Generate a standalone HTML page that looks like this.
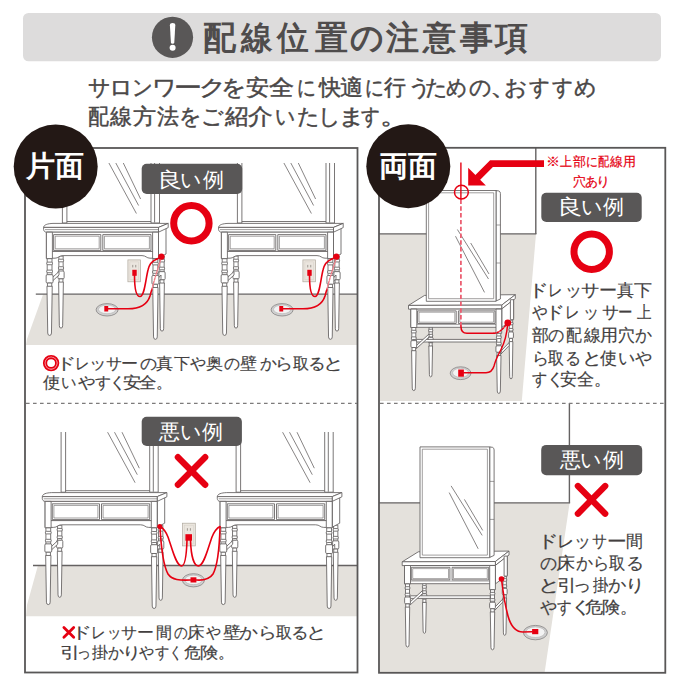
<!DOCTYPE html>
<html lang="ja">
<head>
<meta charset="utf-8">
<style>
html,body{margin:0;padding:0;background:#fff;}
body{width:683px;height:683px;position:relative;overflow:hidden;font-family:"Liberation Sans",sans-serif;}
svg.bg{position:absolute;left:0;top:0;}
.t{position:absolute;white-space:nowrap;line-height:1;color:#433f3f;-webkit-text-stroke:0.18px #433f3f;}
.w{color:#fff;-webkit-text-stroke:0;}
.h{color:#4f4c4c;-webkit-text-stroke:0;}
.s{color:#4a4747;-webkit-text-stroke:0.45px #4a4747;}
.r{color:#e60012;-webkit-text-stroke:0.2px #e60012;}
.m span{display:inline-block;}
</style>
</head>
<body>
<svg class="bg" width="683" height="683" viewBox="0 0 683 683">
<defs>
<g id="dF" fill="#fff" stroke="#625e5e" stroke-width="0.85" stroke-linejoin="round">
<rect x="58.84" y="256.00" width="4.32" height="15.51"/>
<rect x="58.44" y="259.22" width="5.13" height="2.6" rx="1"/>
<rect x="58.44" y="266.73" width="5.13" height="2.6" rx="1"/>
<rect x="57.90" y="271.01" width="6.21" height="7.87" rx="1.2"/>
<rect x="59.06" y="278.88" width="3.89" height="3.70"/>
<path d="M58.62 282.08 L63.38 282.08 L62.67 325.70 Q62.67 328.10 61.00 328.10 Q59.33 328.10 59.33 325.70 Z"/>
<rect x="159.84" y="256.00" width="4.32" height="16.14"/>
<rect x="159.44" y="259.35" width="5.13" height="2.6" rx="1"/>
<rect x="159.44" y="267.18" width="5.13" height="2.6" rx="1"/>
<rect x="158.90" y="271.64" width="6.21" height="8.19" rx="1.2"/>
<rect x="160.06" y="279.84" width="3.89" height="3.70"/>
<path d="M159.62 283.04 L164.38 283.04 L163.67 328.70 Q163.67 331.10 162.00 331.10 Q160.33 331.10 160.33 328.70 Z"/>
<path d="M52.5 277.5 L59 271.5 L59 275 L52.5 281 Z"/>
<path d="M157.5 279 L161 275 L161 278.5 L157.5 282.5 Z"/>
<rect x="62.4" y="140" width="4.5" height="83"/>
<rect x="151" y="140" width="8.5" height="83"/>
<line x1="154.6" y1="140" x2="154.6" y2="222.5"/>
<line x1="66.9" y1="221.5" x2="151" y2="221.5"/>
<g fill="none" stroke="#736f6f" stroke-width="0.85"><line x1="108.9" y1="163" x2="136.4" y2="213.5"/><line x1="115.8" y1="163" x2="138.6" y2="205.5"/><line x1="123.3" y1="163" x2="140.6" y2="199"/></g>
<path d="M158.5 231 L166 227 L166 254 L158.5 258 Z"/>
<path d="M43.6 227.4 C43.8 224.8 47.5 223.6 53 223.4 L168.2 223.4 L158.5 227.4 Z"/>
<path d="M158.5 227.4 L168.2 223.4 L168.2 227.6 L158.5 232.2 Z"/>
<path d="M43.6 227.4 L158.5 227.4 L158.5 232.2 L46.5 232.2 C44.5 232.2 43.6 230.5 43.6 229.5 Z"/>
<line x1="45" y1="229.6" x2="158.5" y2="229.6" stroke-width="0.6"/>
<rect x="46.4" y="232.2" width="112.1" height="19.2"/>
<rect x="53.6" y="234.6" width="47.2" height="15.8"/>
<rect x="55.2" y="236.2" width="44" height="12.6" stroke-width="0.6"/>
<rect x="102.8" y="234.6" width="48.2" height="15.8"/>
<rect x="104.4" y="236.2" width="45" height="12.6" stroke-width="0.6"/>
<path d="M46.4 251.4 L158.5 251.4 L158.5 258.2 L150 258.2 C146.5 258.2 146 255.6 142 255.6 L63 255.6 C59 255.6 58.5 258.2 55 258.2 L46.4 258.2 Z"/>
<rect x="46.4" y="232.2" width="6" height="26.5"/>
<rect x="152.6" y="232.2" width="5.9" height="26.5"/>
<rect x="47.20" y="258.70" width="4.80" height="16.48"/>
<rect x="46.75" y="262.12" width="5.70" height="2.6" rx="1"/>
<rect x="46.75" y="270.12" width="5.70" height="2.6" rx="1"/>
<rect x="46.15" y="274.68" width="6.90" height="8.37" rx="1.2"/>
<rect x="47.44" y="283.05" width="4.32" height="3.70"/>
<path d="M46.96 286.25 L52.24 286.25 L51.46 333.00 Q51.46 335.40 49.60 335.40 Q47.74 335.40 47.74 333.00 Z"/>
<rect x="153.00" y="258.70" width="4.80" height="17.30"/>
<rect x="152.55" y="262.30" width="5.70" height="2.6" rx="1"/>
<rect x="152.55" y="270.70" width="5.70" height="2.6" rx="1"/>
<rect x="151.95" y="275.50" width="6.90" height="8.80" rx="1.2"/>
<rect x="153.24" y="284.30" width="4.32" height="3.70"/>
<path d="M152.76 287.50 L158.04 287.50 L157.26 336.90 Q157.26 339.30 155.40 339.30 Q153.54 339.30 153.54 336.90 Z"/>
</g>
<g id="dQ" fill="#fff" stroke="#625e5e" stroke-width="0.85" stroke-linejoin="round">
<rect x="429.02" y="327.00" width="3.36" height="10.85"/>
<rect x="428.70" y="329.22" width="3.99" height="2.6" rx="1"/>
<rect x="428.70" y="334.39" width="3.99" height="2.6" rx="1"/>
<rect x="428.28" y="337.35" width="4.83" height="5.42" rx="1.2"/>
<rect x="429.19" y="342.78" width="3.02" height="3.70"/>
<path d="M428.85 345.98 L432.55 345.98 L432.00 374.50 Q432.00 376.90 430.70 376.90 Q429.40 376.90 429.40 374.50 Z"/>
<rect x="509.32" y="319.60" width="3.36" height="12.83"/>
<rect x="509.00" y="322.24" width="3.99" height="2.6" rx="1"/>
<rect x="509.00" y="328.41" width="3.99" height="2.6" rx="1"/>
<rect x="508.58" y="331.93" width="4.83" height="6.46" rx="1.2"/>
<rect x="509.49" y="338.38" width="3.02" height="3.70"/>
<path d="M509.15 341.58 L512.85 341.58 L512.30 376.50 Q512.30 378.90 511.00 378.90 Q509.70 378.90 509.70 376.50 Z"/>
<path d="M408.5 305.4 L424.6 295.4 L515.3 294.7 L501.7 305.1 Z"/>
<path d="M496 190.5 L499 191 Q500.4 191.6 500.4 193.5 L500.4 299 L496 301 Z"/>
<line x1="496.2" y1="225" x2="500.4" y2="225" stroke-width="0.6"/><line x1="496.2" y1="263" x2="500.4" y2="263" stroke-width="0.6"/>
<rect x="426.3" y="190.5" width="69.7" height="110.8"/>
<rect x="428.6" y="192.8" width="65.1" height="105.9" stroke-width="0.6"/>
<g fill="none" stroke="#736f6f" stroke-width="0.85"><line x1="457.4" y1="229.5" x2="488.5" y2="279"/><line x1="455.5" y1="236.2" x2="484.5" y2="292.4"/><line x1="470.7" y1="243" x2="489" y2="274"/></g>
<path d="M501.7 305.1 L515.3 294.7 L515.3 298.6 L501.7 309 Z"/>
<path d="M408.5 305.4 L501.7 305.1 L501.7 309 L408.5 309.2 Z"/>
<path d="M501.7 309 L513.6 299.7 L513.6 318.5 L501.7 327.5 Z"/>
<rect x="510.4" y="299.7" width="3.2" height="20"/>
<rect x="410.8" y="309.1" width="90.9" height="18.2"/>
<rect x="417.6" y="310.9" width="38.6" height="12.6"/>
<rect x="419" y="312.2" width="35.8" height="10" stroke-width="0.55"/>
<rect x="458.4" y="310.9" width="36.6" height="12.6"/>
<rect x="459.8" y="312.2" width="33.8" height="10" stroke-width="0.55"/>
<line x1="410.8" y1="324.6" x2="501.7" y2="324.6" stroke-width="0.6"/>
<rect x="410.8" y="309.1" width="6" height="18.4"/>
<rect x="496" y="309.1" width="5.7" height="24.2"/>
<path d="M416.5 339.4 L496.5 339.4 L496.5 342 L416.5 342 Z"/>
<path d="M416.5 345.5 L429 334 L429 337 L416.5 348.5 Z"/>
<path d="M501 351 L509.2 342.5 L509.2 345.5 L501 354 Z"/>
<rect x="411.80" y="327.50" width="4.00" height="13.62"/>
<rect x="411.43" y="330.31" width="4.75" height="2.6" rx="1"/>
<rect x="411.43" y="336.88" width="4.75" height="2.6" rx="1"/>
<rect x="410.93" y="340.62" width="5.75" height="6.88" rx="1.2"/>
<rect x="412.00" y="347.50" width="3.60" height="3.70"/>
<path d="M411.60 350.70 L416.00 350.70 L415.35 388.20 Q415.35 390.60 413.80 390.60 Q412.25 390.60 412.25 388.20 Z"/>
<rect x="496.80" y="333.30" width="4.00" height="13.00"/>
<rect x="496.43" y="335.98" width="4.75" height="2.6" rx="1"/>
<rect x="496.43" y="342.23" width="4.75" height="2.6" rx="1"/>
<rect x="495.93" y="345.80" width="5.75" height="6.55" rx="1.2"/>
<rect x="497.00" y="352.34" width="3.60" height="3.70"/>
<path d="M496.60 355.54 L501.00 355.54 L500.35 391.00 Q500.35 393.40 498.80 393.40 Q497.25 393.40 497.25 391.00 Z"/>
</g>
<clipPath id="cU"><rect x="26" y="163" width="331" height="240"/></clipPath>
<clipPath id="cL"><rect x="26" y="432" width="331" height="240"/></clipPath>
</defs>
<!-- header banner -->
<rect x="23" y="13" width="638" height="48.3" rx="5.5" fill="#dddcdc"/>
<circle cx="172.5" cy="37.3" r="20.6" fill="#595757"/>
<path d="M169.9 25.3 Q169.9 23.1 172.6 23.1 Q175.3 23.1 175.3 25.3 L174.3 42.6 Q174.2 43.8 172.6 43.8 Q171 43.8 170.9 42.6 Z" fill="#fff"/>
<circle cx="172.6" cy="47.8" r="3" fill="#fff"/>

<!-- floors -->
<path d="M43 294.5 L27 339 L26 345 L357 345 L357 294.5 Z" fill="#e4e1dc"/>
<path d="M37.8 566 L27 605 L26 616.3 L357 616.3 L357 566 Z" fill="#e4e1dc"/>
<path d="M380 234 L536 234 L521.8 401 L380 401 Z" fill="#e4e1dc"/>
<path d="M380 503 L569.6 503 L544.7 672 L380 672 Z" fill="#e4e1dc"/>

<!-- wall lines -->
<g stroke="#656262" stroke-width="1.4" fill="none">
<line x1="35.8" y1="294.1" x2="357" y2="294.1"/>
<line x1="33" y1="565.5" x2="357" y2="565.5"/>
<line x1="379" y1="233.9" x2="536.4" y2="233.9"/>
<line x1="535.8" y1="148" x2="535.8" y2="233.9"/>
<line x1="379" y1="502.9" x2="570.1" y2="502.9"/>
<line x1="569.4" y1="403" x2="569.4" y2="502.9"/>
</g>

<!-- dressers -->
<g clip-path="url(#cU)">
<use href="#dF"/>
<use href="#dF" transform="translate(175,0)"/>
</g>
<rect x="127.9" y="259.9" width="12.7" height="21.9" fill="#ebe6df" stroke="#b0a99f" stroke-width="0.7"/><rect x="129.9" y="261.9" width="8.7" height="17.9" fill="none" stroke="#d6d0c7" stroke-width="0.5"/><g stroke="#8a847c" stroke-width="0.8"><line x1="132.75" y1="264.9" x2="132.75" y2="267.4"/><line x1="135.75" y1="264.9" x2="135.75" y2="267.4"/></g>
<ellipse cx="107.1" cy="309.8" rx="11" ry="6.2" fill="#cfcfcf" stroke="#858383" stroke-width="0.8"/><ellipse cx="107.1" cy="309.40000000000003" rx="8.6" ry="4.300000000000001" fill="#f3f3f3" stroke="#a9a7a7" stroke-width="0.5"/>
<g fill="none" stroke="#e60012" stroke-width="1.6" stroke-linecap="round">
<path d="M134.5 275 C134.5 290 136.5 296.5 140 296.5 C144.5 296.5 145.5 280 148 270 C149.5 263 153 260.5 156.5 259.2"/>
<path d="M108 308.8 L128 308.8 C141 308.8 147.5 304 150 296 C150.8 293 151.4 291 152 289"/>
<path d="M152 289 C153.5 283 155.5 276 157.5 270 C159 265 160.5 261 161.4 257" stroke="#f07d87" stroke-width="1.4" stroke-dasharray="1.8 1.4"/>
<path d="M156.5 259.2 L160 257.5" stroke-dasharray="1.6 1.6"/>
</g>
<rect x="132.3" y="269.8" width="4.4" height="6" fill="#e60012"/>
<rect x="104.3" y="306" width="3.9" height="5.5" fill="#e60012"/>
<circle cx="161.4" cy="256.6" r="3.2" fill="#e60012"/>
<g transform="translate(175,0)">
<rect x="127.9" y="259.9" width="12.7" height="21.9" fill="#ebe6df" stroke="#b0a99f" stroke-width="0.7"/><rect x="129.9" y="261.9" width="8.7" height="17.9" fill="none" stroke="#d6d0c7" stroke-width="0.5"/><g stroke="#8a847c" stroke-width="0.8"><line x1="132.75" y1="264.9" x2="132.75" y2="267.4"/><line x1="135.75" y1="264.9" x2="135.75" y2="267.4"/></g>
<ellipse cx="107.1" cy="309.8" rx="11" ry="6.2" fill="#cfcfcf" stroke="#858383" stroke-width="0.8"/><ellipse cx="107.1" cy="309.40000000000003" rx="8.6" ry="4.300000000000001" fill="#f3f3f3" stroke="#a9a7a7" stroke-width="0.5"/>
<g fill="none" stroke="#e60012" stroke-width="1.6" stroke-linecap="round">
<path d="M134.5 275 C134.5 290 136.5 296.5 140 296.5 C144.5 296.5 145.5 280 148 270 C149.5 263 153 260.5 156.5 259.2"/>
<path d="M108 308.8 L128 308.8 C141 308.8 147.5 304 150 296 C150.8 293 151.4 291 152 289"/>
<path d="M152 289 C153.5 283 155.5 276 157.5 270 C159 265 160.5 261 161.4 257" stroke="#f07d87" stroke-width="1.4" stroke-dasharray="1.8 1.4"/>
<path d="M156.5 259.2 L160 257.5" stroke-dasharray="1.6 1.6"/>
</g>
<rect x="132.3" y="269.8" width="4.4" height="6" fill="#e60012"/>
<rect x="104.3" y="306" width="3.9" height="5.5" fill="#e60012"/>
<circle cx="161.4" cy="256.6" r="3.2" fill="#e60012"/>
</g>
<g clip-path="url(#cL)">
<use href="#dF" transform="translate(-1.3,269.2)"/>
<use href="#dF" transform="translate(173.7,269.2)"/>
</g>
<rect x="182.5" y="523.2" width="12.8" height="22.7" fill="#ebe6df" stroke="#b0a99f" stroke-width="0.7"/><rect x="184.5" y="525.2" width="8.8" height="18.7" fill="none" stroke="#d6d0c7" stroke-width="0.5"/><g stroke="#8a847c" stroke-width="0.8"><line x1="187.4" y1="528.2" x2="187.4" y2="530.7"/><line x1="190.4" y1="528.2" x2="190.4" y2="530.7"/></g>
<ellipse cx="193.4" cy="580.3" rx="11" ry="6.6" fill="#cfcfcf" stroke="#858383" stroke-width="0.8"/><ellipse cx="193.4" cy="579.9" rx="8.6" ry="4.699999999999999" fill="#f3f3f3" stroke="#a9a7a7" stroke-width="0.5"/>
<g fill="none" stroke="#e60012" stroke-width="1.6" stroke-linecap="round">
<path d="M187 540 C186.5 556 185 566 181.5 566 C176 566 172 548 168 537 C166 532 163 528 160 526.5"/>
<path d="M190.5 540 C191 556 194 566 198.5 566 C204 566 208 548 212 537 C214 532 217 528 220 526.5"/>
<path d="M160 527 C161 545 163 565 168 574 C172 580 180 580.5 190.5 580"/>
<path d="M220 527 C219.5 545 218 565 213 574 C209 580 203 580.5 196.4 580"/>
</g>
<rect x="185.4" y="534.2" width="6.6" height="6.5" fill="#e60012"/>
<rect x="190.5" y="577.3" width="5.9" height="5.2" fill="#e60012"/>
<circle cx="159.8" cy="526.6" r="2.5" fill="#e60012"/>
<use href="#dQ"/>
<ellipse cx="460.6" cy="373.2" rx="10.4" ry="6.4" fill="#cfcfcf" stroke="#858383" stroke-width="0.8"/><ellipse cx="460.6" cy="372.8" rx="8.0" ry="4.5" fill="#f3f3f3" stroke="#a9a7a7" stroke-width="0.5"/>
<g fill="none" stroke="#e60012" stroke-width="1.5" stroke-linecap="round">
<path d="M460.9 199.5 L460.9 326" stroke="#ec5f72" stroke-width="1.8" stroke-dasharray="4.4 2.4" stroke-linecap="butt"/>
<path d="M460.9 326 Q460.9 333.3 467 333.3 L494 333.3"/>
<path d="M494 333.3 C499 333 503 329 507.8 323" stroke-dasharray="1.6 1.6"/>
<path d="M507.8 323 C507 333 505 342 500.8 350 C497 357 495 362 494 366 C492.5 371 490 372.8 486 372.8 L463.9 372.8"/>
</g>
<line x1="460.9" y1="162.5" x2="460.9" y2="199.5" stroke="#e60012" stroke-width="1.4"/>
<circle cx="461.4" cy="192.2" r="6.9" fill="none" stroke="#e60012" stroke-width="1.5"/>
<rect x="458.2" y="369.5" width="5.7" height="7.2" fill="#e60012"/>
<circle cx="507.8" cy="322.8" r="3.4" fill="#e60012"/>
<polyline points="544,163.7 491.5,163.7 477.3,177.9" fill="none" stroke="#e60012" stroke-width="6.8" stroke-linejoin="miter"/>
<polygon points="468.2,185.6 468.2,167.8 485.9,185.4" fill="#e60012"/>
<use href="#dQ" transform="translate(-6.3,256.4)"/>
<ellipse cx="535.4" cy="632.6" rx="12" ry="7.2" fill="#cfcfcf" stroke="#858383" stroke-width="0.8"/><ellipse cx="535.4" cy="632.2" rx="9.6" ry="5.300000000000001" fill="#f3f3f3" stroke="#a9a7a7" stroke-width="0.5"/>
<path d="M501.5 579 C503 592 505 605 508 616 C511 627 516 632 523 632 L532 631.8" fill="none" stroke="#e60012" stroke-width="1.6" stroke-linecap="round"/>
<rect x="532.1" y="629" width="6.2" height="5.2" fill="#e60012"/>
<circle cx="501.5" cy="579" r="2.8" fill="#e60012"/>

<!-- panels -->
<rect x="25" y="148" width="332.5" height="524.5" fill="none" stroke="#595757" stroke-width="1.8"/>
<rect x="379" y="147.8" width="286.3" height="525" fill="none" stroke="#595757" stroke-width="1.8"/>
<line x1="26" y1="403.3" x2="357" y2="403.3" stroke="#7d7b7b" stroke-width="1.3" stroke-dasharray="3.6 3.4"/>
<line x1="380" y1="403.3" x2="665" y2="403.3" stroke="#7d7b7b" stroke-width="1.3" stroke-dasharray="3.6 3.4"/>

<!-- labels -->
<rect x="141.7" y="163.8" width="100.5" height="30.2" rx="5" fill="#595757"/>
<rect x="141.7" y="416.7" width="100.2" height="29.3" rx="5" fill="#595757"/>
<rect x="541.3" y="192.7" width="100.4" height="29.2" rx="5" fill="#595757"/>
<rect x="541.2" y="444.9" width="101" height="30.4" rx="5" fill="#595757"/>

<!-- red marks -->
<circle cx="191.4" cy="223.3" r="17.7" fill="none" stroke="#e60012" stroke-width="7"/>
<circle cx="591.7" cy="251.7" r="17.7" fill="none" stroke="#e60012" stroke-width="7"/>
<g stroke="#e60012" stroke-width="6.3" stroke-linecap="round">
<line x1="177.9" y1="457.2" x2="205.2" y2="484.8"/>
<line x1="205.2" y1="457.2" x2="177.9" y2="484.8"/>
<line x1="577.9" y1="486" x2="605.2" y2="513.7"/>
<line x1="605.2" y1="486" x2="577.9" y2="513.7"/>
</g>
<circle cx="51.1" cy="363.1" r="7.25" fill="none" stroke="#e60012" stroke-width="1.9"/><circle cx="51.1" cy="363.1" r="6.05" fill="none" stroke="#f07a85" stroke-width="0.6"/><circle cx="51.1" cy="363.1" r="4.85" fill="none" stroke="#e60012" stroke-width="1.8"/>
<g stroke="#e60012" stroke-width="2.8" stroke-linecap="round">
<line x1="63.9" y1="627.6" x2="73.7" y2="637.2"/><line x1="73.7" y1="627.6" x2="63.9" y2="637.2"/>
</g>

<!-- big circles -->
<circle cx="55.7" cy="166.5" r="42" fill="#231815"/>
<circle cx="408.3" cy="166.2" r="42" fill="#231815"/>
</svg>

<div class="t m h" style="left:203.10px;top:21.3px;font-size:33px;font-weight:bold;"><span style="width:37.25px;">配</span><span style="width:35.90px;transform:scaleX(0.950);transform-origin:16.0px 50%;">線</span><span style="width:38.35px;transform:scaleX(0.959);transform-origin:16.0px 50%;">位</span><span style="width:35.80px;">置</span><span style="width:36.05px;">の</span><span style="width:36.90px;">注</span><span style="width:36.75px;">意</span><span style="width:35.15px;">事</span>項</div>
<div class="t m s" style="left:88.05px;top:77.2px;font-size:22px;"><span style="width:21.50px;">サ</span><span style="width:21.05px;transform:scaleX(1.064);transform-origin:11.0px 50%;">ロ</span><span style="width:22.50px;transform:scaleX(0.929);transform-origin:11.5px 50%;">ン</span><span style="width:23.70px;transform:scaleX(1.100);transform-origin:11.0px 50%;">ワ</span><span style="width:24.35px;transform:scaleX(1.267);transform-origin:11.0px 50%;">ー</span><span style="width:20.40px;transform:scaleX(1.207);transform-origin:10.5px 50%;">ク</span><span style="width:25.25px;transform:scaleX(1.124);transform-origin:11.5px 50%;">を</span><span style="width:23.80px;transform:scaleX(1.050);transform-origin:11.0px 50%;">安</span><span style="width:24.75px;transform:scaleX(1.147);transform-origin:10.5px 50%;">全</span><span style="width:23.25px;transform:scaleX(0.850);transform-origin:11.0px 50%;">に</span><span style="width:21.80px;">快</span><span style="width:22.85px;transform:scaleX(1.042);transform-origin:10.5px 50%;">適</span><span style="width:20.90px;transform:scaleX(0.850);transform-origin:11.0px 50%;">に</span><span style="width:23.70px;">行</span><span style="width:16.85px;transform:scaleX(1.042);transform-origin:10.0px 50%;">う</span><span style="width:20.70px;">た</span><span style="width:24.05px;transform:scaleX(0.940);transform-origin:11.0px 50%;">め</span><span style="width:21.75px;">の</span><span style="width:14.05px;transform:scaleX(1.300);transform-origin:5.0px 50%;">、</span><span style="width:23.30px;transform:scaleX(1.047);transform-origin:11.5px 50%;">お</span><span style="width:22.25px;transform:scaleX(0.935);transform-origin:11.0px 50%;">す</span><span style="width:22.85px;transform:scaleX(0.940);transform-origin:11.0px 50%;">す</span>め</div>
<div class="t m s" style="left:86.95px;top:106.2px;font-size:22px;"><span style="width:22.70px;transform:scaleX(0.948);transform-origin:11.5px 50%;">配</span><span style="width:24.10px;">線</span><span style="width:22.80px;transform:scaleX(1.055);transform-origin:11.0px 50%;">方</span><span style="width:22.95px;">法</span><span style="width:21.85px;">を</span><span style="width:24.65px;">ご</span><span style="width:23.20px;transform:scaleX(1.067);transform-origin:10.5px 50%;">紹</span><span style="width:24.55px;transform:scaleX(1.120);transform-origin:11.0px 50%;">介</span><span style="width:23.50px;transform:scaleX(0.900);transform-origin:11.5px 50%;">い</span><span style="width:20.65px;">た</span><span style="width:22.10px;">し</span><span style="width:19.20px;transform:scaleX(1.215);transform-origin:10.5px 50%;">ま</span><span style="width:21.70px;transform:scaleX(0.850);transform-origin:11.0px 50%;">す</span><span style="transform:scaleX(1.300);transform-origin:4.5px 50%;">。</span></div>
<div class="t m " style="left:57.60px;top:356.3px;font-size:16px;"><span style="width:16.75px;transform:scaleX(1.250);transform-origin:10.0px 50%;">ド</span><span style="width:15.70px;transform:scaleX(0.908);transform-origin:8.0px 50%;">レ</span><span style="width:15.90px;transform:scaleX(1.090);transform-origin:8.0px 50%;">ッ</span><span style="width:16.20px;">サ</span><span style="width:18.40px;transform:scaleX(1.064);transform-origin:8.0px 50%;">ー</span><span style="width:16.55px;transform:scaleX(1.064);transform-origin:8.0px 50%;">の</span><span style="width:17.20px;transform:scaleX(1.071);transform-origin:8.0px 50%;">真</span><span style="width:15.75px;">下</span><span style="width:17.15px;">や</span><span style="width:17.15px;transform:scaleX(1.071);transform-origin:8.0px 50%;">奥</span><span style="width:17.10px;">の</span><span style="width:18.25px;transform:scaleX(1.064);transform-origin:8.0px 50%;">壁</span><span style="width:16.60px;transform:scaleX(1.053);transform-origin:8.5px 50%;">か</span><span style="width:16.35px;transform:scaleX(1.120);transform-origin:8.0px 50%;">ら</span><span style="width:16.25px;">取</span><span style="width:16.65px;transform:scaleX(1.100);transform-origin:8.0px 50%;">る</span><span style="transform:scaleX(1.300);transform-origin:7.5px 50%;">と</span></div>
<div class="t m " style="left:44.40px;top:375.45px;font-size:16px;"><span style="width:17.10px;transform:scaleX(1.080);transform-origin:7.5px 50%;">使</span><span style="width:17.10px;transform:scaleX(0.957);transform-origin:8.0px 50%;">い</span><span style="width:16.65px;transform:scaleX(1.086);transform-origin:8.0px 50%;">や</span><span style="width:15.25px;">す</span><span style="width:13.30px;transform:scaleX(1.086);transform-origin:7.5px 50%;">く</span><span style="width:16.70px;transform:scaleX(1.157);transform-origin:8.0px 50%;">安</span><span style="width:15.90px;transform:scaleX(1.086);transform-origin:8.0px 50%;">全</span>。</div>
<div class="t m " style="left:73.80px;top:625.45px;font-size:16px;"><span style="width:16.50px;transform:scaleX(1.300);transform-origin:10.0px 50%;">ド</span><span style="width:15.70px;transform:scaleX(0.917);transform-origin:8.0px 50%;">レ</span><span style="width:14.70px;transform:scaleX(0.900);transform-origin:8.0px 50%;">ッ</span><span style="width:15.90px;">サ</span><span style="width:19.70px;transform:scaleX(1.057);transform-origin:8.0px 50%;">ー</span><span style="width:16.30px;">間</span><span style="width:15.90px;transform:scaleX(0.857);transform-origin:8.0px 50%;">の</span><span style="width:16.45px;transform:scaleX(1.100);transform-origin:8.0px 50%;">床</span><span style="width:18.65px;transform:scaleX(0.936);transform-origin:8.0px 50%;">や</span><span style="width:16.80px;transform:scaleX(1.100);transform-origin:8.0px 50%;">壁</span><span style="width:18.85px;transform:scaleX(1.173);transform-origin:8.5px 50%;">か</span><span style="width:16.95px;transform:scaleX(1.170);transform-origin:8.0px 50%;">ら</span><span style="width:15.95px;">取</span><span style="width:15.90px;transform:scaleX(1.092);transform-origin:8.0px 50%;">る</span><span style="transform:scaleX(1.300);transform-origin:7.5px 50%;">と</span></div>
<div class="t m " style="left:62.35px;top:644.6px;font-size:16px;"><span style="width:13.90px;transform:scaleX(1.275);transform-origin:7.0px 50%;">引</span><span style="width:15.70px;transform:scaleX(0.864);transform-origin:8.5px 50%;">っ</span><span style="width:16.45px;">掛</span><span style="width:15.90px;">か</span><span style="width:15.00px;transform:scaleX(1.200);transform-origin:8.0px 50%;">り</span><span style="width:15.05px;transform:scaleX(0.943);transform-origin:8.0px 50%;">や</span><span style="width:14.00px;transform:scaleX(0.893);transform-origin:8.0px 50%;">す</span><span style="width:15.65px;transform:scaleX(0.850);transform-origin:7.5px 50%;">く</span><span style="width:16.85px;transform:scaleX(1.043);transform-origin:8.0px 50%;">危</span><span style="width:17.65px;transform:scaleX(1.150);transform-origin:8.0px 50%;">険</span>。</div>
<div class="t m r" style="left:546.85px;top:156.45px;font-size:12.6px;"><span style="width:13.00px;transform:scaleX(1.078);transform-origin:6.5px 50%;">※</span><span style="width:12.85px;transform:scaleX(0.925);transform-origin:6.0px 50%;">上</span><span style="width:12.55px;">部</span><span style="width:11.55px;transform:scaleX(0.910);transform-origin:6.0px 50%;">に</span><span style="width:13.50px;transform:scaleX(0.867);transform-origin:7.0px 50%;">配</span><span style="width:12.35px;">線</span>用</div>
<div class="t m r" style="left:572.55px;top:176.4px;font-size:12.6px;"><span style="width:12.55px;">穴</span><span style="width:12.20px;">あ</span><span style="transform:scaleX(1.086);transform-origin:6.5px 50%;">り</span></div>
<div class="t m " style="left:530.45px;top:282.4px;font-size:17px;"><span style="width:16.55px;transform:scaleX(1.211);transform-origin:10.5px 50%;">ド</span><span style="width:17.90px;transform:scaleX(0.850);transform-origin:9.0px 50%;">レ</span><span style="width:17.15px;">ッ</span><span style="width:17.70px;transform:scaleX(1.087);transform-origin:8.5px 50%;">サ</span><span style="width:17.75px;transform:scaleX(1.064);transform-origin:9.0px 50%;">ー</span><span style="width:17.85px;">真</span><span style="transform:scaleX(1.060);transform-origin:8.5px 50%;">下</span></div>
<div class="t m " style="left:531.35px;top:303.75px;font-size:17px;"><span style="width:15.70px;transform:scaleX(0.913);transform-origin:8.5px 50%;">や</span><span style="width:16.70px;transform:scaleX(1.167);transform-origin:10.5px 50%;">ド</span><span style="width:19.40px;transform:scaleX(0.850);transform-origin:9.0px 50%;">レ</span><span style="width:18.90px;transform:scaleX(0.955);transform-origin:8.5px 50%;">ッ</span><span style="width:14.85px;">サ</span><span style="width:19.40px;transform:scaleX(0.850);transform-origin:9.0px 50%;">ー</span><span style="transform:scaleX(0.850);transform-origin:8.0px 50%;">上</span></div>
<div class="t m " style="left:531.65px;top:327.1px;font-size:17px;"><span style="width:16.80px;">部</span><span style="width:16.60px;transform:scaleX(0.953);transform-origin:8.5px 50%;">の</span><span style="width:18.75px;transform:scaleX(0.931);transform-origin:9.0px 50%;">配</span><span style="width:17.45px;">線</span><span style="width:16.60px;transform:scaleX(1.064);transform-origin:8.0px 50%;">用</span><span style="width:17.10px;">穴</span>か</div>
<div class="t m " style="left:531.60px;top:349.5px;font-size:17px;"><span style="width:16.80px;">ら</span><span style="width:16.55px;transform:scaleX(0.938);transform-origin:8.0px 50%;">取</span><span style="width:17.95px;transform:scaleX(0.946);transform-origin:8.5px 50%;">る</span><span style="width:17.40px;transform:scaleX(1.180);transform-origin:8.0px 50%;">と</span><span style="width:17.35px;">使</span><span style="width:17.30px;">い</span>や</div>
<div class="t m " style="left:531.20px;top:370.8px;font-size:17px;"><span style="width:15.55px;transform:scaleX(0.893);transform-origin:8.5px 50%;">す</span><span style="width:13.65px;transform:scaleX(1.117);transform-origin:8.0px 50%;">く</span><span style="width:16.75px;">安</span><span style="width:16.85px;">全</span>。</div>
<div class="t m " style="left:539.90px;top:532.75px;font-size:17px;"><span style="width:16.70px;transform:scaleX(1.267);transform-origin:10.5px 50%;">ド</span><span style="width:17.40px;">レ</span><span style="width:16.90px;">ッ</span><span style="width:16.70px;transform:scaleX(0.880);transform-origin:8.5px 50%;">サ</span><span style="width:18.85px;transform:scaleX(1.157);transform-origin:9.0px 50%;">ー</span>間</div>
<div class="t m " style="left:539.75px;top:555.45px;font-size:17px;"><span style="width:17.30px;">の</span><span style="width:19.40px;transform:scaleX(1.127);transform-origin:8.5px 50%;">床</span><span style="width:16.10px;">か</span><span style="width:16.60px;transform:scaleX(0.955);transform-origin:8.5px 50%;">ら</span><span style="width:17.20px;transform:scaleX(0.956);transform-origin:8.0px 50%;">取</span><span style="transform:scaleX(1.054);transform-origin:8.5px 50%;">る</span></div>
<div class="t m " style="left:540.25px;top:577.15px;font-size:17px;"><span style="width:17.40px;transform:scaleX(1.290);transform-origin:8.0px 50%;">と</span><span style="width:16.25px;transform:scaleX(1.173);transform-origin:7.5px 50%;">引</span><span style="width:17.85px;transform:scaleX(1.067);transform-origin:9.0px 50%;">っ</span><span style="width:17.30px;transform:scaleX(0.900);transform-origin:8.5px 50%;">掛</span><span style="width:17.30px;transform:scaleX(1.073);transform-origin:8.5px 50%;">か</span><span style="transform:scaleX(1.167);transform-origin:8.5px 50%;">り</span></div>
<div class="t m " style="left:539.75px;top:599.35px;font-size:17px;"><span style="width:16.10px;">や</span><span style="width:15.85px;transform:scaleX(0.860);transform-origin:8.5px 50%;">す</span><span style="width:13.95px;transform:scaleX(1.300);transform-origin:8.0px 50%;">く</span><span style="width:16.90px;transform:scaleX(1.073);transform-origin:8.5px 50%;">危</span><span style="width:17.90px;transform:scaleX(1.073);transform-origin:8.5px 50%;">険</span>。</div>
<div class="t m w" style="left:158.65px;top:168.55px;font-size:21px;"><span style="width:21.65px;transform:scaleX(1.219);transform-origin:11.0px 50%;">良</span><span style="width:22.65px;">い</span>例</div>
<div class="t m w" style="left:159.05px;top:420.9px;font-size:21px;"><span style="width:20.65px;">悪</span><span style="width:22.65px;">い</span>例</div>
<div class="t m w" style="left:559.05px;top:196.45px;font-size:21px;"><span style="width:21.65px;transform:scaleX(1.219);transform-origin:11.0px 50%;">良</span><span style="width:22.65px;">い</span>例</div>
<div class="t m w" style="left:559.55px;top:448.95px;font-size:21px;"><span style="width:20.65px;">悪</span><span style="width:22.65px;">い</span>例</div>
<div class="t m w" style="left:25.70px;top:152.0px;font-size:29px;font-weight:bold;"><span style="width:29.00px;">片</span>面</div>
<div class="t m w" style="left:378.50px;top:151.65px;font-size:29px;font-weight:bold;"><span style="width:29.00px;">両</span>面</div>
</body>
</html>
